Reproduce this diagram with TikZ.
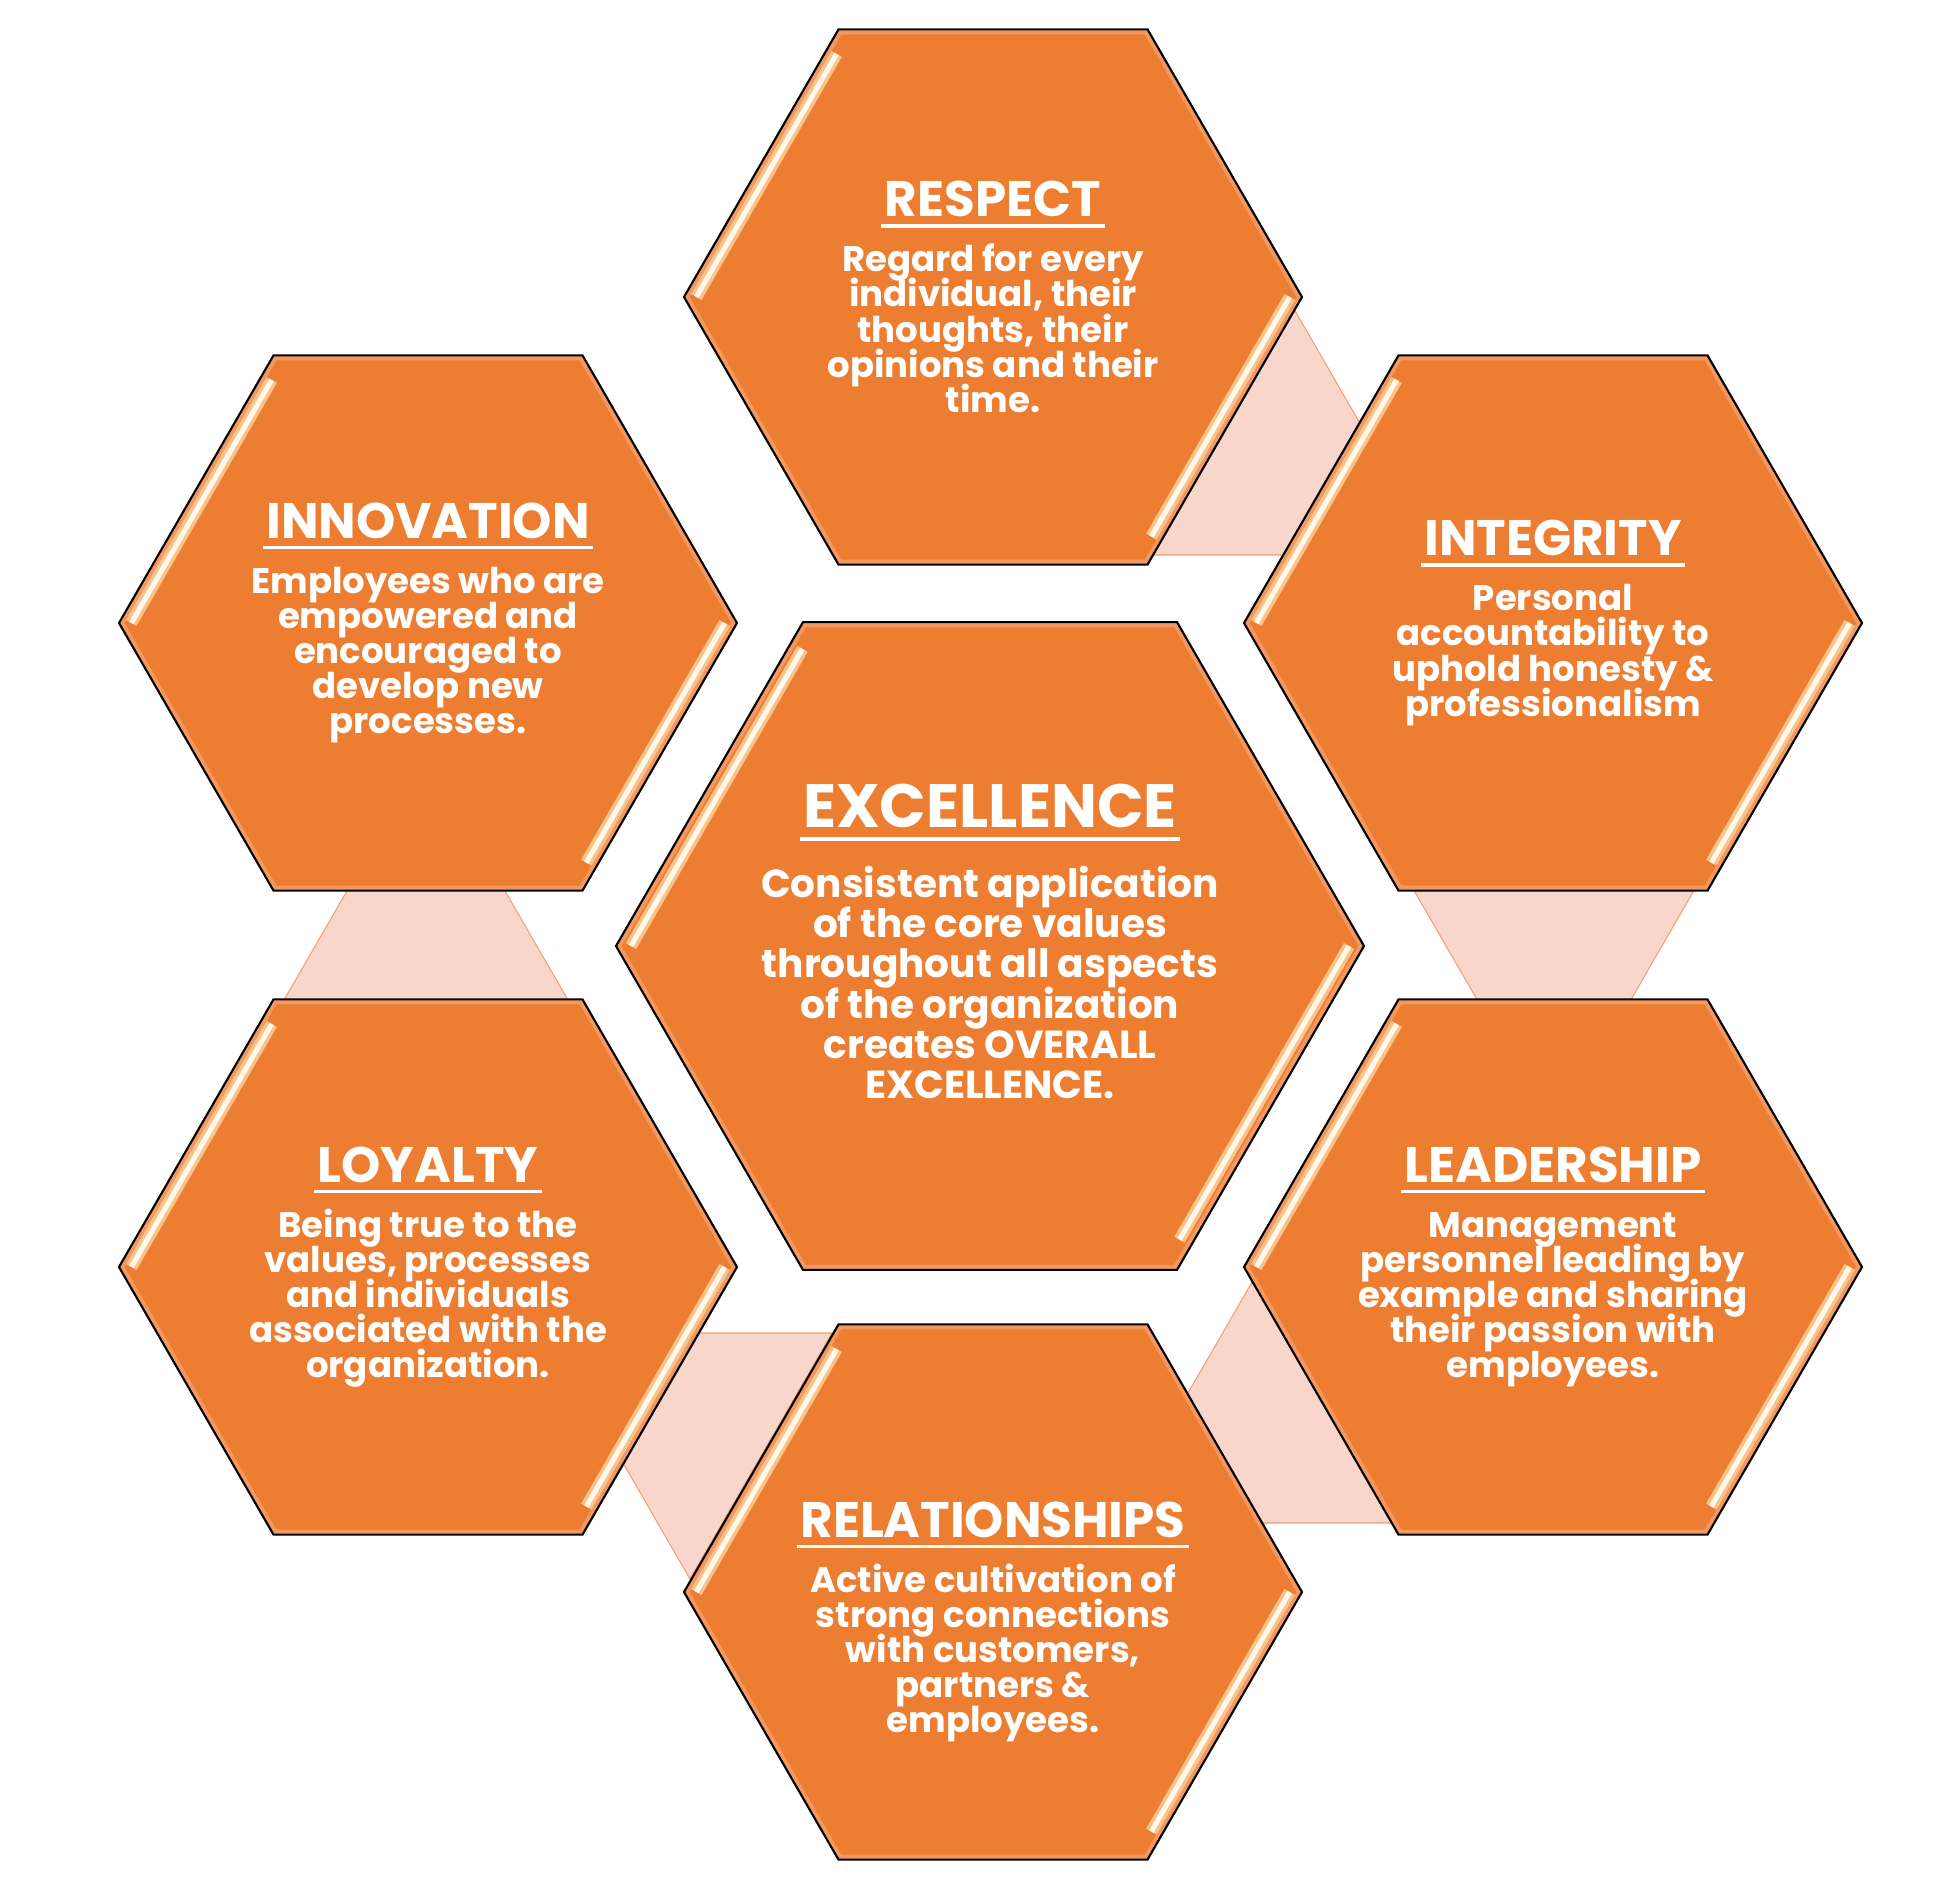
\documentclass[tikz,border=0pt]{standalone}
\usepackage{fontspec}
\setmainfont{Poppins}

\definecolor{hexorange}{RGB}{237,125,49}
\definecolor{hexrim}{RGB}{243,152,96}
\definecolor{tripink}{RGB}{248,214,203}
\definecolor{triedge}{RGB}{242,160,115}
\definecolor{shine}{RGB}{255,248,235}
\definecolor{shinegold}{RGB}{249,196,140}

\newcommand{\titlesize}{\fontsize{14.2}{14}\selectfont}
\newcommand{\bigtitlesize}{\fontsize{17.4}{17}\selectfont}
\newcommand{\tightlines}{\setlength{\lineskiplimit}{-20pt}}
\newcommand{\valtitle}[1]{\setbox0\hbox{#1}\leavevmode\rlap{\kern-1pt\rule[-0.22em]{\dimexpr\wd0+2pt\relax}{0.07em}}\box0}

\tikzset{
  tri/.style={fill=tripink, draw=triedge, line width=0.3pt},
  rim/.style={draw=hexrim, line width=2.8pt},
  hexline/.style={draw=black, line width=0.6pt},
  glint/.style={line width=3.4pt, draw=shinegold},
  glintcore/.style={line width=1.4pt, draw=shine},
  valtext/.style={text=white, align=center, inner sep=0pt,
    font=\bfseries\fontsize{10.1}{10}\selectfont\tightlines},
  bigtext/.style={valtext, font=\bfseries\fontsize{11.1}{11.45}\selectfont\tightlines}
}

\begin{document}
\begin{tikzpicture}[x=0.01cm,y=0.01cm]
\useasboundingbox (0,0) rectangle (1960,-1888);

% pale triangles behind the ring
\draw[tri] (1294,-309) -- (1152,-555) -- (1436,-555) -- cycle;
\draw[tri] (426,-754) -- (284,-1000) -- (568,-1000) -- cycle;
\draw[tri] (1554,-1133) -- (1412,-887) -- (1696,-887) -- cycle;
\draw[tri] (1255,-1277) -- (1113,-1523) -- (1397,-1523) -- cycle;
\draw[tri] (690,-1579) -- (548,-1333) -- (832,-1333) -- cycle;

\foreach \n/\x/\y/\r in {respect/993/-297/309, innovation/428/-623/309,
  integrity/1553/-623/309, excellence/990/-946/374, loyalty/428/-1267/309,
  leadership/1553/-1267/309, relationships/993/-1592/309}
{
  \coordinate (\n) at (\x,\y);
  \fill[hexorange] (\n) +(0:\r) -- +(60:\r) -- +(120:\r) -- +(180:\r) -- +(240:\r) -- +(300:\r) -- cycle;
  \begin{scope}
    \clip (\n) +(0:\r) -- +(60:\r) -- +(120:\r) -- +(180:\r) -- +(240:\r) -- +(300:\r) -- cycle;
    \draw[rim] (\n) +(0:\r) -- +(60:\r) -- +(120:\r) -- +(180:\r) -- +(240:\r) -- +(300:\r) -- cycle;
  \end{scope}
  \draw[hexline] (\n) +(0:\r) -- +(60:\r) -- +(120:\r) -- +(180:\r) -- +(240:\r) -- +(300:\r) -- cycle;
  \draw[glint] (\n.center) ++(180:{0.96*\r}) -- ++(60:{0.96*\r-16});
  \draw[glintcore] (\n.center) ++(180:{0.96*\r}) -- ++(60:{0.96*\r-16});
  \draw[glint] (\n.center) ++(0:{0.96*\r}) -- ++(240:{0.96*\r-20});
  \draw[glintcore] (\n.center) ++(0:{0.96*\r}) -- ++(240:{0.96*\r-20});
}

\node[valtext] (respect-txt) at (respect) {{\titlesize\valtitle{RESPECT}}\\[5.6pt]
  Regard for every\\individual, their\\thoughts, their\\opinions and their\\time.};
\node[valtext] (innovation-txt) at (innovation) {{\titlesize\valtitle{INNOVATION}}\\[5.6pt]
  Employees who are\\empowered and\\encouraged to\\develop new\\processes.};
\node[valtext] (integrity-txt) at (integrity) {{\titlesize\valtitle{INTEGRITY}}\\[5.6pt]
  Personal\\accountability to\\uphold honesty \&\\professionalism};
\node[bigtext, yshift=0.044cm] (excellence-txt) at (excellence) {{\bigtitlesize\valtitle{EXCELLENCE}}\\[8.4pt]
  Consistent application\\of the core values\\throughout all aspects\\of the organization\\creates OVERALL\\EXCELLENCE.};
\node[valtext] (loyalty-txt) at (loyalty) {{\titlesize\valtitle{LOYALTY}}\\[5.6pt]
  Being true to the\\values, processes\\and individuals\\associated with the\\organization.};
\node[valtext] (leadership-txt) at (leadership) {{\titlesize\valtitle{LEADERSHIP}}\\[5.6pt]
  Management\\personnel leading by\\example and sharing\\their passion with\\employees.};
\node[valtext, yshift=-0.30cm] (relationships-txt) at (relationships) {{\titlesize\valtitle{RELATIONSHIPS}}\\[5.6pt]
  Active cultivation of\\strong connections\\with customers,\\partners \&\\employees.};
\end{tikzpicture}
\end{document}
